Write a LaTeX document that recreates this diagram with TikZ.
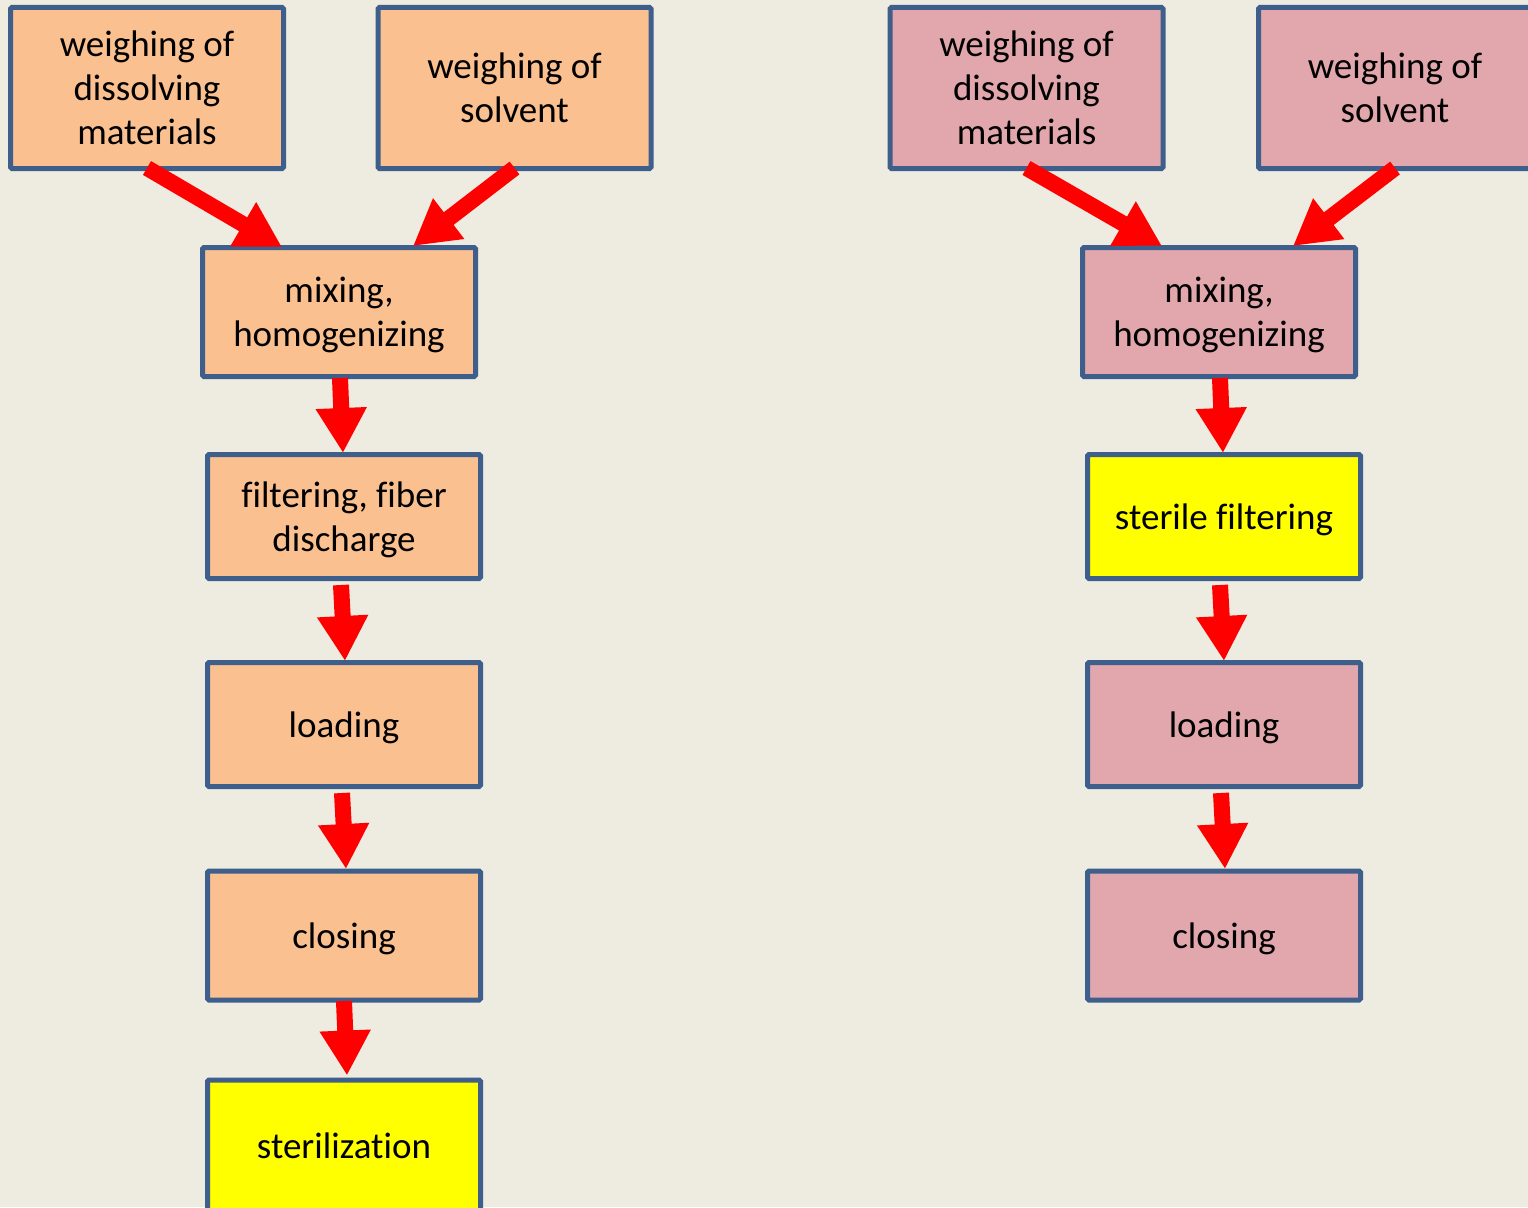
\documentclass[tikz,border=0pt]{standalone}
\usepackage{fontspec}
\setmainfont{Carlito}[Ligatures=NoCommon]
\usetikzlibrary{arrows.meta,calc}
\definecolor{bgc}{HTML}{EEEBE0}
\definecolor{boxline}{HTML}{3E5F8B}
\definecolor{orangefill}{HTML}{FAC090}
\definecolor{pinkfill}{HTML}{E2A7AC}
\definecolor{yellowfill}{HTML}{FFFF00}
\begin{document}
\begin{tikzpicture}[x=1pt,y=-1pt,
  stepbox/.style={draw=boxline,line width=5pt,inner sep=0pt,align=center,
    rounded corners=1.5pt,text depth=0pt,
    font=\fontsize{37}{44}\selectfont,text=black},
  orangebox/.style={stepbox,fill=orangefill},
  pinkbox/.style={stepbox,fill=pinkfill},
  yellowbox/.style={stepbox,fill=yellowfill},
  blockarrow/.style={draw=red,line width=16pt,-{Triangle[width=48pt,length=45pt]}}
]
\useasboundingbox[fill=bgc] (0,0) rectangle (1528,1207);
% left column
\node[orangebox,minimum width=273pt,minimum height=161pt] (A1) at (147,88) {weighing of\\dissolving\\materials};
\node[orangebox,minimum width=273pt,minimum height=161pt] (A2) at (514.5,88) {weighing of\\solvent};
\node[orangebox,minimum width=273pt,minimum height=129pt] (A3) at (339,312) {mixing,\\homogenizing};
\node[orangebox,minimum width=273pt,minimum height=124pt] (A4) at (344,516.5) {filtering, fiber\\discharge};
\node[orangebox,minimum width=273pt,minimum height=124pt] (A5) at (344,724.5) {loading};
\node[orangebox,minimum width=273pt,minimum height=129pt] (A6) at (344,935.5) {closing};
\node[yellowbox,minimum width=273pt,minimum height=132pt] (A7) at (344,1146) {sterilization};
% right column
\node[pinkbox,minimum width=273pt,minimum height=161pt] (B1) at (1026.5,88) {weighing of\\dissolving\\materials};
\node[pinkbox,minimum width=273pt,minimum height=161pt] (B2) at (1395,88) {weighing of\\solvent};
\node[pinkbox,minimum width=273pt,minimum height=129pt] (B3) at (1219,312) {mixing,\\homogenizing};
\node[yellowbox,minimum width=273pt,minimum height=124pt] (B4) at (1224,516.5) {sterile filtering};
\node[pinkbox,minimum width=273pt,minimum height=124pt] (B5) at (1224,724.5) {loading};
\node[pinkbox,minimum width=273pt,minimum height=129pt] (B6) at (1224,935.5) {closing};
% left arrows
\draw[blockarrow] ($(A1.south)+(0,-3)$) -- ($(A3.north)+(-57,2)$);
\draw[blockarrow] ($(A2.south)+(0,-3)$) -- ($(A3.north)+(74,1)$);
\draw[blockarrow] ($(A3.south)+(1,-1)$) -- ($(A4.north)+(-1,1)$);
\draw[blockarrow] ($(A4.south)+(-3,4)$) -- ($(A5.north)+(1,1)$);
\draw[blockarrow] ($(A5.south)+(-2,4)$) -- ($(A6.north)+(2,0.5)$);
\draw[blockarrow] ($(A6.south)+(0,-1.5)$) -- ($(A7.north)+(3,-2)$);
% right arrows
\draw[blockarrow] ($(B1.south)+(0,-3)$) -- ($(B3.north)+(-57,1)$);
\draw[blockarrow] ($(B2.south)+(0,-3)$) -- ($(B3.north)+(74,1)$);
\draw[blockarrow] ($(B3.south)+(1,-1)$) -- ($(B4.north)+(-1,1)$);
\draw[blockarrow] ($(B4.south)+(-4,4)$) -- ($(B5.north)+(0,1)$);
\draw[blockarrow] ($(B5.south)+(-3,4)$) -- ($(B6.north)+(1,0.5)$);
\end{tikzpicture}
\end{document}
